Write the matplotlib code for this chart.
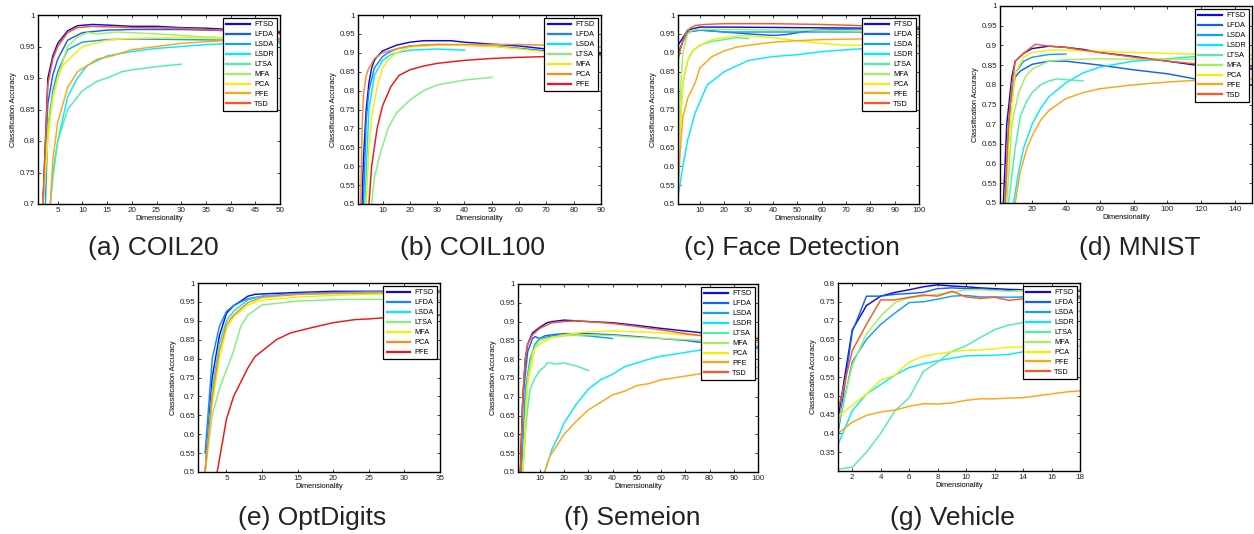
import matplotlib
matplotlib.use('Agg')
import matplotlib.pyplot as plt
from matplotlib.ticker import FormatStrFormatter

plt.rcParams['font.family'] = ['Liberation Sans', 'DejaVu Sans']

W, H = 1254, 534

# colours (jet-like), one per method
COL9 = {'FTSD': '#0a0ae6', 'LFDA': '#1262f2', 'LSDA': '#10a2f2', 'LSDR': '#00ecff',
        'LTSA': '#4ef0a4', 'MFA': '#a2f05c', 'PCA': '#f2f000', 'PFE': '#ffa512',
        'TSD': '#ff5522'}
COL7 = {'FTSD': '#0a0ae6', 'LFDA': '#1f82f2', 'LSDA': '#00e8ff', 'LTSA': '#80f080',
        'MFA': '#f2f000', 'PCA': '#ff8a22', 'PFE': '#f01414'}

# ---- data: method -> (dimensionality, accuracy) ----
coil20 = {
    'FTSD': ([2, 3, 4, 5, 7, 9, 12, 15, 20, 25, 30, 35, 40, 45, 50],
             [0.70, 0.90, 0.935, 0.955, 0.975, 0.983, 0.985, 0.984, 0.982, 0.982, 0.980, 0.979, 0.977, 0.975, 0.972]),
    'LFDA': ([2, 3, 4, 5, 7, 10, 15, 20, 30, 40, 50],
             [0.70, 0.86, 0.905, 0.93, 0.96, 0.972, 0.976, 0.977, 0.977, 0.975, 0.974]),
    'LSDA': ([2.5, 3, 4, 5, 7, 10, 15, 20, 30, 40, 50],
             [0.70, 0.82, 0.88, 0.91, 0.945, 0.957, 0.961, 0.962, 0.961, 0.960, 0.958]),
    'LSDR': ([3.5, 4, 5, 7, 9, 11, 15, 20, 25, 30, 35, 40, 45, 50],
             [0.70, 0.75, 0.80, 0.87, 0.90, 0.92, 0.935, 0.942, 0.947, 0.950, 0.953, 0.955, 0.955, 0.955]),
    'LTSA': ([3.5, 4, 5, 7, 10, 13, 15, 18, 20, 25, 30],
             [0.70, 0.74, 0.80, 0.85, 0.88, 0.895, 0.90, 0.91, 0.913, 0.918, 0.922]),
    'MFA': ([2, 3, 4, 5, 7, 9, 11, 13, 17, 25, 35, 50],
            [0.70, 0.82, 0.87, 0.90, 0.95, 0.965, 0.972, 0.970, 0.973, 0.970, 0.965, 0.962]),
    'PCA': ([2, 3, 4, 5, 6, 8, 10, 15, 20, 30, 40, 50],
            [0.70, 0.80, 0.87, 0.90, 0.92, 0.935, 0.95, 0.96, 0.963, 0.964, 0.963, 0.963]),
    'PFE': ([3.5, 4, 5, 7, 9, 10, 13, 16, 20, 25, 30, 40, 50],
            [0.70, 0.77, 0.83, 0.885, 0.91, 0.915, 0.93, 0.935, 0.945, 0.950, 0.955, 0.960, 0.962]),
    'TSD': ([2, 3, 4, 5, 7, 9, 12, 20, 30, 40, 50],
            [0.70, 0.89, 0.93, 0.95, 0.972, 0.980, 0.982, 0.980, 0.979, 0.975, 0.970]),
}

coil100 = {
    'FTSD': ([2.5, 3, 4, 5, 6, 7, 8, 10, 15, 20, 25, 35, 40, 50, 60, 70, 80, 90],
             [0.50, 0.62, 0.75, 0.82, 0.86, 0.88, 0.89, 0.905, 0.92, 0.928, 0.932, 0.932, 0.928, 0.923, 0.918, 0.91, 0.905, 0.90]),
    'LFDA': ([3, 4, 5, 7, 10, 12, 15, 20, 30, 40, 50, 60, 70, 80, 90],
             [0.50, 0.72, 0.80, 0.86, 0.89, 0.90, 0.91, 0.918, 0.922, 0.92, 0.918, 0.912, 0.905, 0.90, 0.895]),
    'LSDA': ([3.5, 5, 7, 10, 13, 15, 20, 30, 40],
             [0.50, 0.75, 0.84, 0.88, 0.895, 0.90, 0.907, 0.91, 0.907]),
    'LTSA': ([6, 7, 9, 12, 15, 20, 25, 30, 40, 50],
             [0.50, 0.57, 0.63, 0.70, 0.74, 0.775, 0.80, 0.815, 0.828, 0.835]),
    'MFA': ([4, 5, 6, 8, 10, 12, 15, 20, 30, 40, 50, 60, 70, 80, 90],
            [0.50, 0.65, 0.73, 0.81, 0.86, 0.88, 0.90, 0.915, 0.92, 0.92, 0.917, 0.91, 0.902, 0.895, 0.89]),
    'PCA': ([2, 2.5, 3, 4, 5, 7, 10, 15, 20, 30, 40, 50, 60, 70, 80, 90],
            [0.50, 0.70, 0.79, 0.84, 0.86, 0.885, 0.90, 0.91, 0.918, 0.922, 0.922, 0.922, 0.922, 0.92, 0.918, 0.915]),
    'PFE': ([5, 6, 8, 10, 13, 16, 20, 25, 30, 40, 50, 60, 70, 80, 90],
            [0.50, 0.60, 0.70, 0.76, 0.81, 0.84, 0.855, 0.865, 0.872, 0.88, 0.885, 0.888, 0.89, 0.892, 0.895]),
}

face = {
    'FTSD': ([1, 3, 5, 8, 10, 20, 40, 60, 80, 100],
             [0.92, 0.94, 0.96, 0.965, 0.968, 0.968, 0.967, 0.966, 0.965, 0.963]),
    'LFDA': ([1, 3, 5, 10, 20, 30, 40, 45, 55, 60, 70, 80, 100],
             [0.90, 0.93, 0.955, 0.96, 0.955, 0.95, 0.946, 0.948, 0.958, 0.962, 0.963, 0.963, 0.962]),
    'LSDA': ([1, 3, 5, 10, 15, 20, 30, 40, 60, 80, 100],
             [0.89, 0.93, 0.955, 0.96, 0.958, 0.955, 0.955, 0.955, 0.955, 0.955, 0.955]),
    'LSDR': ([1, 3, 5, 8, 10, 13, 17, 20, 25, 30, 40, 50, 60, 70, 80, 100],
             [0.52, 0.60, 0.67, 0.74, 0.77, 0.815, 0.835, 0.85, 0.865, 0.88, 0.89, 0.895, 0.903, 0.908, 0.912, 0.918]),
    'LTSA': ([1, 3, 5, 7, 10, 15, 20, 25, 30],
             [0.60, 0.82, 0.88, 0.905, 0.92, 0.93, 0.935, 0.94, 0.938]),
    'MFA': ([1, 2, 3, 5, 7, 10, 20, 40, 60, 80, 100],
            [0.60, 0.80, 0.90, 0.95, 0.96, 0.962, 0.962, 0.96, 0.96, 0.957, 0.955]),
    'PCA': ([1, 2, 3, 5, 7, 10, 15, 20, 25, 30, 40, 50, 60, 70, 80, 100],
            [0.55, 0.72, 0.82, 0.88, 0.905, 0.92, 0.935, 0.94, 0.945, 0.945, 0.94, 0.932, 0.925, 0.92, 0.92, 0.92]),
    'PFE': ([1, 2, 3, 5, 8, 10, 15, 20, 25, 30, 40, 50, 60, 80, 100],
            [0.53, 0.65, 0.73, 0.78, 0.82, 0.86, 0.89, 0.905, 0.915, 0.92, 0.928, 0.932, 0.935, 0.937, 0.94]),
    'TSD': ([1, 2, 4, 6, 8, 12, 20, 40, 60, 80, 100],
            [0.88, 0.91, 0.95, 0.965, 0.972, 0.975, 0.977, 0.977, 0.975, 0.971, 0.968]),
}

mnist = {
    'FTSD': ([3, 5, 8, 10, 15, 20, 30, 40, 50, 60, 80, 100, 120, 150],
             [0.50, 0.70, 0.82, 0.86, 0.88, 0.892, 0.898, 0.895, 0.89, 0.882, 0.872, 0.86, 0.848, 0.84]),
    'LFDA': ([4, 7, 10, 13, 20, 30, 40, 60, 80, 100, 120, 150],
             [0.50, 0.75, 0.82, 0.835, 0.852, 0.86, 0.86, 0.85, 0.838, 0.828, 0.812, 0.80]),
    'LSDA': ([4, 7, 10, 15, 20, 30, 40],
             [0.50, 0.75, 0.83, 0.86, 0.87, 0.877, 0.878]),
    'LSDR': ([9, 12, 15, 20, 25, 30, 40, 50, 60, 80, 100, 120, 150],
             [0.50, 0.58, 0.64, 0.70, 0.74, 0.77, 0.805, 0.83, 0.845, 0.86, 0.866, 0.873, 0.875]),
    'LTSA': ([6, 10, 13, 17, 20, 25, 30, 35, 40, 50],
             [0.50, 0.64, 0.72, 0.76, 0.78, 0.80, 0.81, 0.815, 0.813, 0.81]),
    'MFA': ([5, 8, 12, 16, 20, 30, 40, 60, 80, 100, 150],
            [0.50, 0.70, 0.78, 0.82, 0.84, 0.86, 0.864, 0.866, 0.865, 0.865, 0.865]),
    'PCA': ([4, 7, 10, 15, 20, 30, 40, 60, 80, 100, 120, 150],
            [0.50, 0.70, 0.83, 0.87, 0.882, 0.888, 0.888, 0.885, 0.882, 0.88, 0.877, 0.875]),
    'PFE': ([10, 13, 17, 20, 25, 30, 40, 50, 60, 80, 100, 120, 150],
            [0.50, 0.58, 0.64, 0.67, 0.71, 0.735, 0.765, 0.78, 0.79, 0.80, 0.807, 0.812, 0.815]),
    'TSD': ([4, 6, 8, 10, 15, 20, 22, 30, 40, 50, 60, 80, 100, 120, 150],
            [0.50, 0.70, 0.80, 0.86, 0.88, 0.897, 0.903, 0.898, 0.895, 0.888, 0.882, 0.87, 0.86, 0.852, 0.845]),
}

optdigits = {
    'FTSD': ([2, 3, 4, 5, 6, 7, 8, 9, 10, 15, 20, 25, 30, 35],
             [0.50, 0.75, 0.86, 0.92, 0.94, 0.952, 0.965, 0.97, 0.971, 0.975, 0.978, 0.978, 0.978, 0.978]),
    'LFDA': ([2, 3, 4, 5, 6, 7, 8, 10, 15, 20, 25, 35],
             [0.55, 0.80, 0.885, 0.925, 0.94, 0.95, 0.958, 0.965, 0.972, 0.975, 0.977, 0.978]),
    'LSDA': ([2, 3, 4, 5, 6, 8, 10, 15, 20, 35],
             [0.50, 0.72, 0.84, 0.90, 0.925, 0.955, 0.965, 0.97, 0.972, 0.975]),
    'LTSA': ([2, 3, 4, 5, 6, 7, 8, 10, 15, 20, 25, 30, 35],
             [0.50, 0.65, 0.72, 0.77, 0.82, 0.885, 0.915, 0.942, 0.952, 0.956, 0.957, 0.956, 0.954]),
    'MFA': ([2, 3, 4, 5, 6, 8, 10, 15, 20, 25, 35],
            [0.50, 0.68, 0.80, 0.88, 0.91, 0.942, 0.955, 0.963, 0.967, 0.97, 0.972]),
    'PCA': ([2, 3, 4, 5, 6, 8, 10, 15, 20, 25, 35],
            [0.50, 0.70, 0.82, 0.89, 0.915, 0.948, 0.962, 0.97, 0.973, 0.975, 0.976]),
    'PFE': ([3.7, 5, 6, 8, 9, 10, 12, 14, 17, 20, 23, 25, 30, 35],
            [0.50, 0.64, 0.70, 0.775, 0.805, 0.82, 0.85, 0.868, 0.882, 0.895, 0.903, 0.905, 0.912, 0.915]),
}

semeion = {
    'FTSD': ([2, 3, 4, 5, 7, 10, 13, 15, 20, 30, 40, 50, 60, 70, 80, 100],
             [0.50, 0.70, 0.80, 0.84, 0.87, 0.885, 0.897, 0.90, 0.904, 0.90, 0.897, 0.89, 0.882, 0.875, 0.868, 0.855]),
    'LFDA': ([2, 3, 5, 7, 8, 10, 12, 15, 20, 30, 40, 50, 60, 70, 80, 100],
             [0.50, 0.70, 0.82, 0.855, 0.86, 0.855, 0.862, 0.865, 0.868, 0.868, 0.865, 0.86, 0.855, 0.85, 0.842, 0.83]),
    'LSDA': ([2.5, 4, 6, 8, 10, 15, 20, 30, 40],
             [0.50, 0.72, 0.80, 0.84, 0.855, 0.862, 0.865, 0.862, 0.855]),
    'LSDR': ([12, 15, 18, 20, 23, 25, 30, 35, 40, 45, 50, 55, 60, 70, 80, 100],
             [0.50, 0.56, 0.60, 0.63, 0.66, 0.68, 0.72, 0.745, 0.76, 0.78, 0.79, 0.80, 0.808, 0.818, 0.828, 0.835]),
    'LTSA': ([3, 4, 5, 6, 8, 10, 12, 13, 15, 16, 20, 25, 28, 30],
             [0.50, 0.60, 0.67, 0.72, 0.75, 0.77, 0.78, 0.79, 0.79, 0.787, 0.79, 0.782, 0.775, 0.77]),
    'MFA': ([3, 5, 7, 10, 15, 20, 30, 40, 50, 60, 70, 80, 100],
            [0.50, 0.75, 0.82, 0.85, 0.858, 0.862, 0.865, 0.863, 0.858, 0.855, 0.852, 0.85, 0.845]),
    'PCA': ([3, 5, 7, 8, 10, 15, 20, 30, 40, 50, 60, 70, 80, 100],
            [0.50, 0.73, 0.80, 0.83, 0.84, 0.858, 0.865, 0.873, 0.875, 0.873, 0.87, 0.865, 0.862, 0.858]),
    'PFE': ([12, 14, 17, 20, 25, 30, 35, 40, 45, 50, 55, 60, 70, 80, 100],
            [0.50, 0.54, 0.57, 0.60, 0.635, 0.665, 0.685, 0.705, 0.715, 0.73, 0.735, 0.745, 0.755, 0.765, 0.778]),
    'TSD': ([2, 3, 4, 5, 7, 10, 15, 20, 25, 30, 40, 50, 60, 70, 80, 100],
            [0.50, 0.70, 0.80, 0.84, 0.865, 0.882, 0.897, 0.90, 0.902, 0.90, 0.895, 0.887, 0.878, 0.868, 0.86, 0.85]),
}

veh_dims = list(range(1, 19))
vehicle = {
    'FTSD': (veh_dims, [0.44, 0.675, 0.74, 0.765, 0.775, 0.782, 0.79, 0.795, 0.792, 0.79, 0.787, 0.785, 0.783, 0.782, 0.781, 0.78, 0.78, 0.78]),
    'LFDA': (veh_dims, [0.40, 0.67, 0.765, 0.765, 0.77, 0.772, 0.775, 0.785, 0.787, 0.785, 0.785, 0.782, 0.78, 0.78, 0.779, 0.778, 0.778, 0.778]),
    'LSDA': (veh_dims, [0.41, 0.59, 0.65, 0.69, 0.72, 0.748, 0.75, 0.757, 0.765, 0.767, 0.763, 0.763, 0.762, 0.763, 0.762, 0.762, 0.76, 0.76]),
    'LSDR': (veh_dims, [0.37, 0.46, 0.505, 0.53, 0.555, 0.575, 0.585, 0.593, 0.60, 0.606, 0.607, 0.608, 0.61, 0.617, 0.62, 0.625, 0.63, 0.632]),
    'LTSA': (veh_dims, [0.305, 0.31, 0.35, 0.40, 0.46, 0.495, 0.565, 0.59, 0.618, 0.633, 0.655, 0.676, 0.688, 0.695, 0.705, 0.715, 0.72, 0.725]),
    'MFA': (veh_dims, [0.42, 0.58, 0.665, 0.712, 0.748, 0.76, 0.765, 0.77, 0.775, 0.782, 0.782, 0.78, 0.778, 0.78, 0.78, 0.782, 0.782, 0.782]),
    'PCA': (veh_dims, [0.445, 0.475, 0.505, 0.542, 0.555, 0.59, 0.605, 0.612, 0.617, 0.621, 0.622, 0.625, 0.629, 0.63, 0.63, 0.632, 0.632, 0.633]),
    'PFE': (veh_dims, [0.40, 0.43, 0.448, 0.457, 0.462, 0.472, 0.479, 0.478, 0.481, 0.488, 0.492, 0.492, 0.494, 0.495, 0.50, 0.505, 0.51, 0.513]),
    'TSD': (veh_dims, [0.46, 0.62, 0.69, 0.755, 0.755, 0.762, 0.768, 0.765, 0.778, 0.763, 0.759, 0.762, 0.754, 0.758, 0.76, 0.76, 0.762, 0.765]),
}

# panel layout: data, colours, caption, pixel box (left, right, top, bottom),
# xlim, xticks, ylim, yticks, caption centre (px)
panels = [
    (coil20, COL9, '(a) COIL20', (38, 280, 15, 204), (1, 50), range(5, 51, 5),
     (0.7, 1.0), [0.7, 0.75, 0.8, 0.85, 0.9, 0.95, 1], (153, 248)),
    (coil100, COL7, '(b) COIL100', (358, 601, 15, 204), (1, 90), range(10, 91, 10),
     (0.5, 1.0), [0.5 + 0.05 * i for i in range(11)], (472, 248)),
    (face, COL9, '(c) Face Detection', (678, 919, 15, 204), (1, 100), range(10, 101, 10),
     (0.5, 1.0), [0.5 + 0.05 * i for i in range(11)], (792, 248)),
    (mnist, COL9, '(d) MNIST', (1000, 1252, 6, 203), (1, 150), range(20, 141, 20),
     (0.5, 1.0), [0.5 + 0.05 * i for i in range(11)], (1140, 248)),
    (optdigits, COL7, '(e) OptDigits', (198, 440, 283, 472), (1, 35), range(5, 36, 5),
     (0.5, 1.0), [0.5 + 0.05 * i for i in range(11)], (312, 518)),
    (semeion, COL9, '(f) Semeion', (518, 758, 284, 472), (1, 100), range(10, 101, 10),
     (0.5, 1.0), [0.5 + 0.05 * i for i in range(11)], (632, 518)),
    (vehicle, COL9, '(g) Vehicle', (838, 1080, 283, 471), (1, 18), range(2, 19, 2),
     (0.3, 0.8), [0.35 + 0.05 * i for i in range(10)], (952, 518)),
]

fig = plt.figure(figsize=(W / 100, H / 100), dpi=100)

for data, cols, caption, box, xlim, xticks, ylim, yticks, cap in panels:
    l, r, t, b = box
    ax = fig.add_axes([l / W, 1 - b / H, (r - l) / W, (b - t) / H])
    for name, (xs, ys) in data.items():
        ax.plot(xs, ys, color=cols[name], lw=1.05, label=name)
    ax.set_xlim(xlim)
    ax.set_ylim(ylim)
    ax.set_xticks(list(xticks))
    ax.set_yticks(yticks)
    ax.yaxis.set_major_formatter(FormatStrFormatter('%g'))
    ax.tick_params(direction='in', length=2.5, width=0.6, labelsize=5.8,
                   top=True, right=True, pad=2, colors='#222222')
    for s in ax.spines.values():
        s.set_linewidth(1.0)
    ax.set_xlabel('Dimensionality', fontsize=5.3, labelpad=1)
    ax.set_ylabel('Classification Accuracy', fontsize=5.3, labelpad=2)
    leg = ax.legend(loc='upper right', fontsize=5.3, handlelength=3.2,
                    handletextpad=0.6, labelspacing=0.38, borderpad=0.45,
                    borderaxespad=0.4, fancybox=False, framealpha=1,
                    edgecolor='black')
    leg.get_frame().set_linewidth(0.9)
    for line in leg.get_lines():
        line.set_linewidth(1.6)
    fig.text(cap[0] / W, 1 - cap[1] / H, caption, fontsize=19,
             color='#222222', ha='center', va='center')

fig.savefig('out.png', dpi=100)
